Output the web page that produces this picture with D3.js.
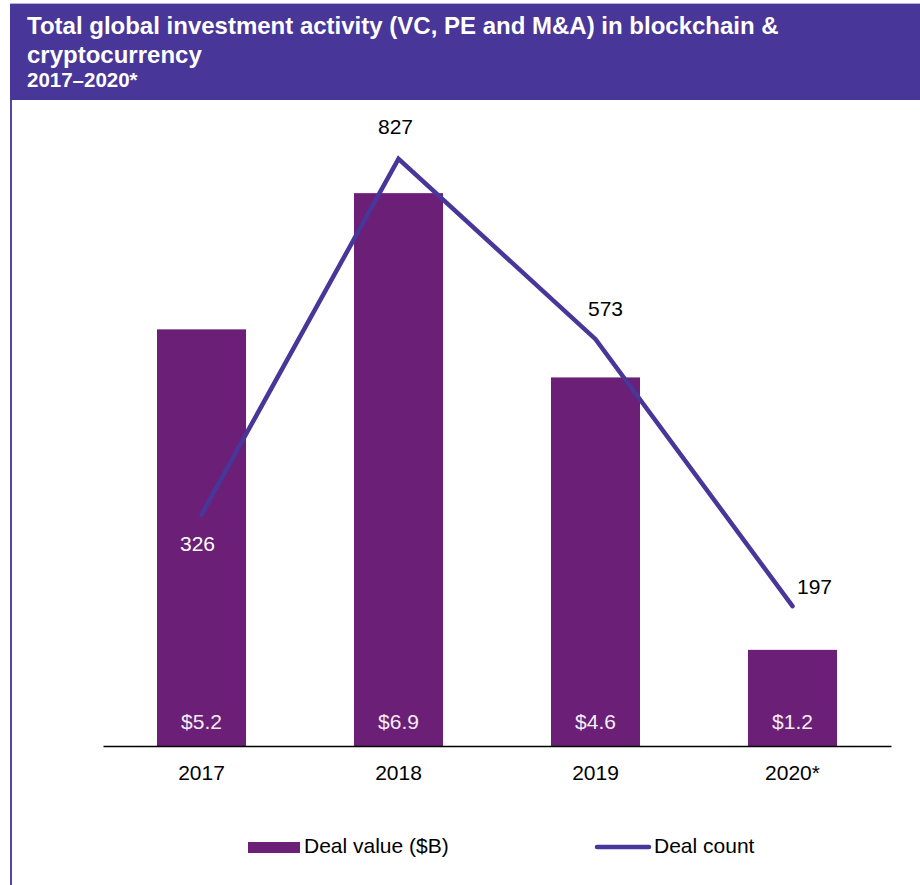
<!DOCTYPE html>
<html>
<head>
<meta charset="utf-8">
<script src="https://cdn.jsdelivr.net/npm/d3@7/dist/d3.min.js"></script>
<style>
  body { margin: 0; background: #fff; }
  svg { display: block; font-family: "Liberation Sans", Arial, sans-serif; }
</style>
</head>
<body>
<div id="chart"></div>
<script>
// data
var years = ['2017', '2018', '2019', '2020*'];
var dealValue = [5.2, 6.9, 4.6, 1.2];      // $B
var dealCount = [326, 827, 573, 197];
var valueLabels = ['$5.2', '$6.9', '$4.6', '$1.2'];
var titleLines = ['Total global investment activity (VC, PE and M&A) in blockchain &', 'cryptocurrency'];
var subtitle = '2017\u20132020*';

var W = 920, H = 885;
var purple = '#483698', barColor = '#6b1f77';

var svg = d3.select('#chart').append('svg')
    .attr('width', W)
    .attr('height', H);

// header band + frame
svg.append('rect')
    .attr('x', 10).attr('y', 3)
    .attr('width', W - 10).attr('height', 97)
    .attr('fill', purple);
svg.append('line')
    .attr('x1', 10).attr('x2', W)
    .attr('y1', 3.5).attr('y2', 3.5)
    .attr('stroke', '#b9b3d6').attr('stroke-width', 1);
svg.append('line')
    .attr('x1', 11).attr('x2', 11)
    .attr('y1', 100).attr('y2', H)
    .attr('stroke', '#5645a6').attr('stroke-width', 2);

var title = svg.append('g').attr('fill', '#fff').attr('font-weight', 'bold');
title.selectAll('text.t')
    .data(titleLines)
    .enter().append('text')
    .attr('class', 't')
    .attr('x', 27)
    .attr('y', function (d, i) { return 34 + i * 29; })
    .attr('font-size', 24)
    .text(function (d) { return d; });
title.append('text')
    .attr('x', 27).attr('y', 87)
    .attr('font-size', 20.5)
    .text(subtitle);

// scales
var x = d3.scaleBand()
    .domain(years)
    .range([103, 891])
    .paddingInner(0.548)
    .paddingOuter(0.274);

var yVal = d3.scaleLinear().domain([0, 8]).range([746, 105]);
var yCnt = d3.scaleLinear().domain([0, 900]).range([746, 107]);

// bars
svg.append('g').selectAll('rect')
    .data(dealValue)
    .enter().append('rect')
    .attr('x', function (d, i) { return x(years[i]); })
    .attr('y', function (d) { return yVal(d); })
    .attr('width', x.bandwidth())
    .attr('height', function (d) { return yVal(0) - yVal(d); })
    .attr('fill', barColor);

svg.append('g').selectAll('text')
    .data(valueLabels)
    .enter().append('text')
    .attr('x', function (d, i) { return x(years[i]) + x.bandwidth() / 2; })
    .attr('y', yVal(0) - 17)
    .attr('text-anchor', 'middle')
    .attr('font-size', 21)
    .attr('fill', '#f4eef5')
    .text(function (d) { return d; });

// x axis
var xAxis = svg.append('g')
    .attr('transform', 'translate(0,746)')
    .call(d3.axisBottom(x).tickSize(0).tickPadding(0));
xAxis.select('.domain').attr('stroke', '#000').attr('stroke-width', 1.5);
xAxis.selectAll('text')
    .attr('font-family', 'Liberation Sans, Arial, sans-serif')
    .attr('font-size', 21)
    .attr('fill', '#000')
    .attr('dy', 0)
    .attr('y', 34);

// deal count line
var cx = function (i) { return x(years[i]) + x.bandwidth() / 2; };
var line = d3.line()
    .x(function (d, i) { return cx(i); })
    .y(function (d) { return yCnt(d); });

svg.append('path')
    .datum(dealCount)
    .attr('d', line)
    .attr('fill', 'none')
    .attr('stroke', purple)
    .attr('stroke-width', 4.5)
    .attr('stroke-linecap', 'round');

// count labels sit around the points, nudged by hand
var cntOffsets = [[-4, 36], [-3, -25], [10, -23], [22, -12]];
var cntColors = ['#fff', '#000', '#000', '#000'];
svg.append('g').selectAll('text')
    .data(dealCount)
    .enter().append('text')
    .attr('x', function (d, i) { return cx(i) + cntOffsets[i][0]; })
    .attr('y', function (d, i) { return yCnt(d) + cntOffsets[i][1]; })
    .attr('text-anchor', 'middle')
    .attr('font-size', 21)
    .attr('fill', function (d, i) { return cntColors[i]; })
    .text(function (d) { return d; });

// legend
var legend = svg.append('g').attr('font-size', 21);
legend.append('rect')
    .attr('x', 248).attr('y', 842)
    .attr('width', 52).attr('height', 11)
    .attr('fill', barColor);
legend.append('text')
    .attr('x', 304).attr('y', 853)
    .text('Deal value ($B)');
legend.append('line')
    .attr('x1', 597).attr('x2', 649)
    .attr('y1', 847).attr('y2', 847)
    .attr('stroke', purple)
    .attr('stroke-width', 4.5)
    .attr('stroke-linecap', 'round');
legend.append('text')
    .attr('x', 654).attr('y', 853)
    .text('Deal count');
</script>
</body>
</html>
